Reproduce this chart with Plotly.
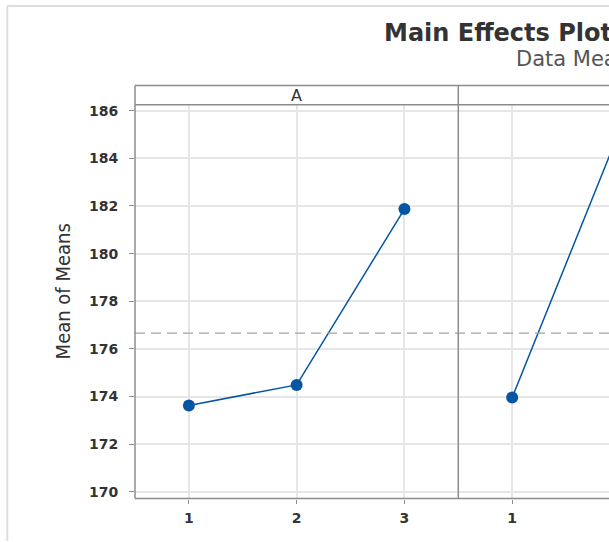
import plotly.graph_objects as go

# ---- data ----
levels_A = [1, 2, 3]
means_A = [173.63, 174.49, 181.87]
levels_B = [1, 2, 3]
means_B = [173.96, 185.2, 170.8]
grand_mean = 176.66
y_ticks = [170, 172, 174, 176, 178, 180, 182, 184, 186]
x_tick_labels = ["1", "2", "3"]
panel_labels = ["A", "B"]
title_text = "Main Effects Plot for Means"
subtitle_text = "Data Means"
y_title = "Mean of Means"

W, H = 609, 542
def px(x):
    return x / W
def py(y):
    return (H - y) / H

left, mid, bottom, top_plot, top_head = 135, 458.3, 499.3, 103.3, 84
ymin, ymax = 169.72, 186.25
panel_w = mid - left
xr_A = [0.5, 3.5]
xr_B = [0.5, 0.5 + (W - mid) / panel_w * 3]

blue = "#0455A4"
frame = "#8c8c8c"
grid = "#e6e6e6"
txt = "#333333"
tickfont = dict(family="DejaVu Sans", size=14, color=txt, weight="bold")

fig = go.Figure()
fig.add_trace(go.Scatter(x=levels_A, y=means_A, mode="lines+markers", xaxis="x", yaxis="y",
                         line=dict(color=blue, width=1.5), marker=dict(color=blue, size=12),
                         showlegend=False, cliponaxis=True))
fig.add_trace(go.Scatter(x=levels_B, y=means_B, mode="lines+markers", xaxis="x2", yaxis="y2",
                         line=dict(color=blue, width=1.5), marker=dict(color=blue, size=12),
                         showlegend=False, cliponaxis=True))

common_y = dict(range=[ymin, ymax], domain=[py(bottom), py(top_plot)], tickvals=y_ticks,
                showgrid=True, gridcolor=grid, gridwidth=1.5, zeroline=False, showline=False)
fig.update_layout(
    width=W, height=H, autosize=False,
    margin=dict(l=0, r=0, t=0, b=0),
    paper_bgcolor="white", plot_bgcolor="white",
    xaxis=dict(domain=[px(left), px(mid)], range=xr_A, tickvals=levels_A, ticktext=x_tick_labels,
               showgrid=True, gridcolor=grid, gridwidth=1.5, zeroline=False, showline=False,
               ticks="outside", ticklen=4, tickwidth=1.2, tickcolor=frame, tickfont=tickfont,
               ticklabelstandoff=3, anchor="y"),
    yaxis=dict(**common_y, ticks="outside", ticklen=5, tickwidth=1.2, tickcolor=frame,
               tickfont=tickfont, ticklabelstandoff=8, anchor="x"),
    xaxis2=dict(domain=[px(mid), 1], range=xr_B, tickvals=levels_B, ticktext=x_tick_labels,
                showgrid=True, gridcolor=grid, gridwidth=1.5, zeroline=False, showline=False,
                ticks="outside", ticklen=4, tickwidth=1.2, tickcolor=frame, tickfont=tickfont,
                ticklabelstandoff=3, anchor="y2"),
    yaxis2=dict(**common_y, showticklabels=False, ticks="", anchor="x2", matches="y"),
)

shapes = []
# outer light frame
shapes.append(dict(type="line", xref="paper", yref="paper", x0=px(7.3), x1=px(7.3), y0=0, y1=py(4),
                   line=dict(color="#dddddd", width=2)))
shapes.append(dict(type="line", xref="paper", yref="paper", x0=px(7.3), x1=1, y0=py(4), y1=py(4),
                   line=dict(color="#dddddd", width=2)))
# grand mean dashed line
shapes.append(dict(type="line", xref="paper", yref="y", x0=px(left), x1=1, y0=grand_mean, y1=grand_mean,
                   line=dict(color="#a3a3a3", width=1.3, dash="10px,6px")))
# panel frame lines
for (x0, y0, x1, y1) in [(left, top_head, left, bottom), (left, bottom, W, bottom),
                         (mid, top_head, mid, bottom), (left, top_head, W, top_head),
                         (left, top_plot, W, top_plot)]:
    shapes.append(dict(type="line", xref="paper", yref="paper", x0=px(x0), x1=px(x1), y0=py(y0), y1=py(y1),
                       line=dict(color=frame, width=1.5)))
fig.update_layout(shapes=shapes)

annotations = [
    dict(text=panel_labels[0], xref="paper", yref="paper", x=px((left + mid) / 2), y=py((top_head + top_plot) / 2),
         showarrow=False, xanchor="center", yanchor="middle",
         font=dict(family="DejaVu Sans", size=16, color=txt)),
    dict(text=panel_labels[1], xref="paper", yref="paper", x=px(mid + panel_w / 2), y=py((top_head + top_plot) / 2),
         showarrow=False, xanchor="center", yanchor="middle",
         font=dict(family="DejaVu Sans", size=16, color=txt)),
    dict(text=title_text, xref="paper", yref="paper", x=px(382), y=py(31), showarrow=False,
         xanchor="left", yanchor="middle",
         font=dict(family="DejaVu Sans", size=24, color=txt, weight="bold")),
    dict(text=subtitle_text, xref="paper", yref="paper", x=px(514), y=py(57), showarrow=False,
         xanchor="left", yanchor="middle",
         font=dict(family="DejaVu Sans", size=21, color="#555555")),
    dict(text=y_title, xref="paper", yref="paper", x=px(63), y=py(291), showarrow=False,
         xanchor="center", yanchor="middle", textangle=-90,
         font=dict(family="Liberation Sans Narrow, DejaVu Sans Condensed, Liberation Sans", size=20, color=txt)),
]
fig.update_layout(annotations=annotations)

fig.write_html("out.html", config={"displayModeBar": False},
               post_script="document.body.style.margin='0';")
